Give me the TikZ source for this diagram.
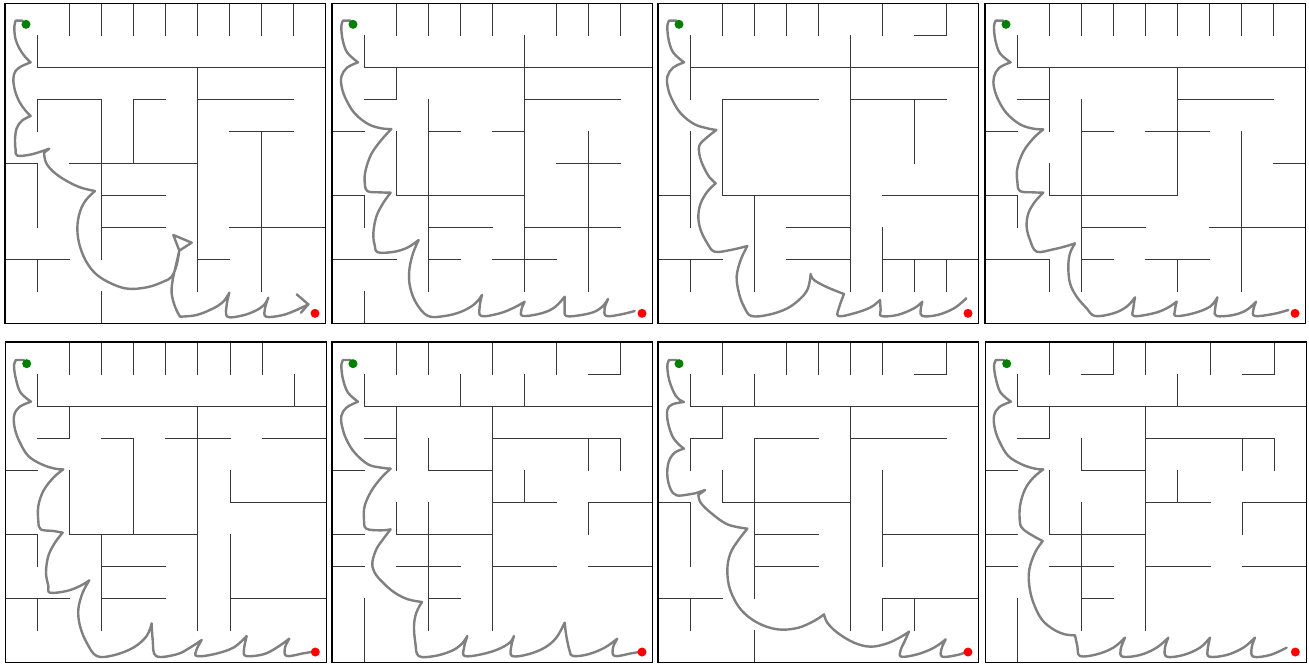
\documentclass[tikz,border=0pt]{standalone}
\usetikzlibrary{calc}
\tikzset{
  mazewall/.style={draw=black!78, line width=1pt, line cap=rect},
  mazeframe/.style={draw=black, line width=1.3pt},
  route/.style={draw=gray, line width=2.4pt, line join=round, line cap=round},
  smoothcurve/.style={smooth, tension=0.6},
  gdot/.style={circle, fill=green!50!black, inner sep=0pt, minimum size=9pt},
  rdot/.style={circle, fill=red, inner sep=0pt, minimum size=9pt},
  cellunit/.style={x=32.05pt, y=-32.05pt},
  zoomunit/.style={x=0.33333pt, y=-0.33333pt}
}
\begin{document}
\begin{tikzpicture}[x=1pt,y=-1pt]
\useasboundingbox (0,0) rectangle (1309,664);
\fill[white] (0,0) rectangle (1309,664);

% ================= Panel 1 =================
\begin{scope}[shift={(5,3.33)}, cellunit]
\draw[mazewall] (2,0)--(2,1) (3,0)--(3,1) (4,0)--(4,1) (5,0)--(5,1) (6,0)--(6,1) (7,0)--(7,1) (8,0)--(8,1) (9,0)--(9,1)
 (1,1)--(1,2) (1,2)--(10,2) (6,2)--(6,9)
 (1,3)--(3,3) (4,3)--(5,3) (6,3)--(9,3) (1,3)--(1,4) (3,3)--(3,8) (4,3)--(4,5)
 (7,4)--(9,4) (8,4)--(8,9)
 (0,5)--(1,5) (2,5)--(6,5) (1,5)--(1,7)
 (3,6)--(5,6) (3,7)--(5,7) (7,7)--(10,7)
 (0,8)--(2,8) (6,8)--(7,8) (1,8)--(1,9) (3,9)--(3,10);
\draw[mazeframe] (0,0) rectangle (10,10);
\end{scope}
\begin{scope}[shift={(0,0)}, zoomunit]
\draw[route] (68,62) -- (47,62)
 -- plot[smoothcurve] coordinates {(47,62) (43,80) (46,115) (58,145) (75,170) (92,187)}
 -- plot[smoothcurve] coordinates {(92,187) (64,199) (46,214) (40,238) (45,272) (58,305) (75,330) (92,348)}
 -- plot[smoothcurve] coordinates {(92,348) (66,362) (50,385) (45,420) (47,450) (52,467) (95,463) (148,446)}
 -- (132,458)
 -- plot[smoothcurve] coordinates {(132,458) (138,488) (160,515) (195,540) (240,562) (285,573)}
 -- plot[smoothcurve] coordinates {(285,573) (258,600) (240,635) (232,685) (240,740) (265,795) (305,835) (375,865) (440,862) (490,845) (515,830) (530,795) (538,752)}
 -- (520,705) -- (575,728) -- (538,752)
 -- plot[smoothcurve] coordinates {(538,752) (528,795) (518,840) (515,880) (525,920) (540,950)}
 -- plot[smoothcurve] coordinates {(540,950) (590,945) (640,925) (670,905) (688,878)}
 -- plot[smoothcurve] coordinates {(688,878) (680,915) (682,950) (725,947) (765,933) (792,915) (805,893)}
 -- plot[smoothcurve] coordinates {(805,893) (795,925) (798,950) (845,946) (885,932) (925,913)};
\draw[route] (890,883) -- (925,913) -- (903,938);
\node[gdot] (g1) at (78,73) {};
\node[rdot] (r1) at (945,940) {};
\end{scope}

% ================= Panel 2 =================
\begin{scope}[shift={(332,3.33)}, cellunit]
\draw[mazewall] (2,0)--(2,1) (3,0)--(3,1) (4,0)--(4,1) (5,0)--(5,1) (7,0)--(7,1) (8,0)--(8,1) (9,0)--(9,1)
 (1,1)--(1,2) (6,1)--(6,9) (1,2)--(10,2) (2,2)--(2,3)
 (1,3)--(2,3) (6,3)--(9,3) (3,3)--(3,9)
 (0,4)--(1,4) (3,4)--(4,4) (5,4)--(6,4) (2,4)--(2,6) (8,4)--(8,9)
 (7,5)--(9,5)
 (0,6)--(1,6) (2,6)--(6,6) (1,6)--(1,7)
 (3,7)--(5,7) (6,7)--(9,7)
 (0,8)--(2,8) (3,8)--(4,8) (5,8)--(7,8) (1,9)--(1,10);
\draw[mazeframe] (0,0) rectangle (10,10);
\end{scope}
\begin{scope}[shift={(328,0)}, zoomunit]
\draw[route] (68,62) -- (45,62)
 -- plot[smoothcurve] coordinates {(45,62) (40,80) (44,120) (58,158) (90,187)}
 -- plot[smoothcurve] coordinates {(90,187) (57,203) (40,230) (42,265) (55,300) (80,340) (120,372) (160,385) (190,387)}
 -- plot[smoothcurve] coordinates {(190,387) (160,420) (130,462) (113,510) (110,545) (118,573) (155,577) (188,578)}
 -- plot[smoothcurve] coordinates {(188,578) (165,610) (145,650) (136,700) (140,735) (150,757) (200,755) (240,742) (272,720)}
 -- plot[smoothcurve] coordinates {(272,720) (255,760) (244,810) (246,860) (265,910) (300,948) (350,948) (400,935) (440,912) (462,885)}
 -- plot[smoothcurve] coordinates {(462,885) (455,920) (460,948) (515,940) (560,922) (590,905)}
 -- plot[smoothcurve] coordinates {(590,905) (580,930) (585,948) (640,940) (680,922) (710,890)}
 -- plot[smoothcurve] coordinates {(710,890) (710,925) (715,948) (760,945) (800,935) (825,918) (840,897)}
 -- plot[smoothcurve] coordinates {(840,897) (830,925) (835,948) (880,943) (920,933)};
\node[gdot] (g2) at (75,73) {};
\node[rdot] (r2) at (942,940) {};
\end{scope}

% ================= Panel 3 =================
\begin{scope}[shift={(658,3.33)}, cellunit]
\draw[mazewall] (2,0)--(2,1) (3,0)--(3,1) (4,0)--(4,1) (5,0)--(5,1) (7,0)--(7,1) (9,0)--(9,1) (8,1)--(9,1)
 (1,1)--(1,3) (6,1)--(6,9) (1,2)--(10,2)
 (2,3)--(5,3) (6,3)--(9,3) (2,3)--(2,6) (8,3)--(8,5)
 (1,4)--(1,7)
 (0,6)--(1,6) (2,6)--(6,6) (7,6)--(10,6) (3,6)--(3,9)
 (4,7)--(6,7) (7,7)--(7,9)
 (0,8)--(2,8) (4,8)--(6,8) (7,8)--(10,8)
 (1,8)--(1,9) (8,8)--(8,9) (9,8)--(9,9);
\draw[mazeframe] (0,0) rectangle (10,10);
\end{scope}
\begin{scope}[shift={(654,0)}, zoomunit]
\draw[route] (68,62) -- (45,62)
 -- plot[smoothcurve] coordinates {(45,62) (40,80) (44,120) (58,158) (90,187)}
 -- plot[smoothcurve] coordinates {(90,187) (57,203) (40,230) (42,265) (55,300) (80,340) (120,372) (160,385) (187,390)}
 -- plot[smoothcurve] coordinates {(187,390) (158,413) (136,437) (138,472) (150,503) (165,530) (185,550)}
 -- plot[smoothcurve] coordinates {(185,550) (160,575) (140,610) (133,650) (140,690) (160,730) (182,755) (230,750) (280,738)}
 -- plot[smoothcurve] coordinates {(280,738) (260,780) (248,830) (255,880) (270,920) (292,948) (345,944) (400,925) (440,895) (462,865) (470,822)}
 -- plot[smoothcurve] coordinates {(470,822) (480,840) (520,862) (570,882)}
 -- plot[smoothcurve] coordinates {(570,882) (556,920) (553,948) (600,940) (650,922) (678,900)}
 -- plot[smoothcurve] coordinates {(678,900) (680,930) (682,948) (730,945) (780,925) (805,905)}
 -- plot[smoothcurve] coordinates {(805,905) (800,930) (805,948) (850,945) (900,925) (937,895)};
\node[gdot] (g3) at (75,73) {};
\node[rdot] (r3) at (942,940) {};
\end{scope}

% ================= Panel 4 =================
\begin{scope}[shift={(985,3.33)}, cellunit]
\draw[mazewall] (2,0)--(2,1) (3,0)--(3,1) (4,0)--(4,1) (5,0)--(5,1) (6,0)--(6,1) (7,0)--(7,1) (8,0)--(8,1) (9,0)--(9,1)
 (1,1)--(1,2) (1,2)--(10,2) (2,2)--(2,4) (6,2)--(6,6)
 (1,3)--(2,3) (6,3)--(9,3) (3,3)--(3,9)
 (0,4)--(1,4) (3,4)--(4,4) (5,4)--(7,4) (8,4)--(8,9)
 (9,5)--(10,5) (2,5)--(2,6)
 (0,6)--(1,6) (2,6)--(6,6) (1,6)--(1,7)
 (3,7)--(5,7) (7,7)--(10,7)
 (0,8)--(2,8) (3,8)--(4,8) (5,8)--(7,8) (2,8)--(2,9) (6,8)--(6,9);
\draw[mazeframe] (0,0) rectangle (10,10);
\end{scope}
\begin{scope}[shift={(980,0)}, zoomunit]
\draw[route] (70,62) -- (47,62)
 -- plot[smoothcurve] coordinates {(47,62) (42,80) (46,120) (60,160) (92,187)}
 -- plot[smoothcurve] coordinates {(92,187) (58,203) (42,230) (42,262) (55,300) (80,340) (120,373) (160,386) (190,388)}
 -- plot[smoothcurve] coordinates {(190,388) (160,415) (130,455) (112,505) (112,545) (120,573) (160,577) (190,578)}
 -- plot[smoothcurve] coordinates {(190,578) (165,605) (145,640) (140,680) (150,720) (170,755) (220,748) (260,738) (285,730)}
 -- plot[smoothcurve] coordinates {(285,730) (270,760) (265,800) (270,850) (290,890) (320,925) (345,948) (400,940) (440,920) (465,892)}
 -- plot[smoothcurve] coordinates {(465,892) (460,925) (462,948) (520,940) (560,925) (590,905)}
 -- plot[smoothcurve] coordinates {(590,905) (585,930) (588,948) (640,940) (690,920) (712,892)}
 -- plot[smoothcurve] coordinates {(712,892) (705,930) (710,948) (760,945) (800,930) (828,905)}
 -- plot[smoothcurve] coordinates {(828,905) (820,930) (825,948) (880,942) (925,930)};
\node[gdot] (g4) at (78,73) {};
\node[rdot] (r4) at (945,940) {};
\end{scope}

% ================= Panel 5 =================
\begin{scope}[shift={(5.67,342)}, cellunit]
\draw[mazewall] (2,0)--(2,1) (3,0)--(3,1) (4,0)--(4,1) (5,0)--(5,1) (6,0)--(6,1) (7,0)--(7,1) (8,0)--(8,1)
 (1,1)--(1,2) (9,1)--(9,2) (1,2)--(10,2) (2,2)--(2,3) (6,2)--(6,9)
 (1,3)--(2,3) (3,3)--(4,3) (5,3)--(7,3) (8,3)--(10,3) (4,3)--(4,6)
 (0,4)--(1,4) (2,4)--(2,6) (7,4)--(7,5) (7,5)--(10,5)
 (0,6)--(1,6) (2,6)--(6,6) (1,6)--(1,7) (3,6)--(3,9) (7,6)--(7,9)
 (3,7)--(5,7)
 (0,8)--(2,8) (3,8)--(5,8) (7,8)--(10,8) (1,8)--(1,9);
\draw[mazeframe] (0,0) rectangle (10,10);
\end{scope}
\begin{scope}[shift={(0,336)}, zoomunit]
\draw[route] (72,72) -- (48,72)
 -- plot[smoothcurve] coordinates {(48,72) (42,90) (48,130) (62,170) (93,197)}
 -- plot[smoothcurve] coordinates {(93,197) (58,213) (42,240) (45,280) (60,320) (85,360) (125,385) (165,398) (190,400)}
 -- plot[smoothcurve] coordinates {(190,400) (160,425) (130,465) (115,510) (115,555) (122,580) (160,585) (188,590)}
 -- plot[smoothcurve] coordinates {(188,590) (165,620) (145,660) (138,710) (145,750) (150,770) (200,765) (240,750) (268,733)}
 -- plot[smoothcurve] coordinates {(268,733) (248,770) (235,820) (240,870) (260,920) (290,960) (340,958) (400,935) (440,900) (455,862)}
 -- plot[smoothcurve] coordinates {(455,862) (458,910) (468,960) (530,955) (570,935) (605,912)}
 -- plot[smoothcurve] coordinates {(605,912) (590,940) (590,960) (640,955) (700,935) (740,900)}
 -- plot[smoothcurve] coordinates {(740,900) (732,940) (738,960) (790,955) (830,935) (868,908)}
 -- plot[smoothcurve] coordinates {(868,908) (855,935) (860,960) (910,952) (940,947)};
\node[gdot] (g5) at (80,83) {};
\node[rdot] (r5) at (946,948) {};
\end{scope}

% ================= Panel 6 =================
\begin{scope}[shift={(332,342)}, cellunit]
\draw[mazewall] (2,0)--(2,1) (3,0)--(3,1) (5,0)--(5,1) (7,0)--(7,1) (9,0)--(9,1) (8,1)--(9,1)
 (1,1)--(1,2) (4,1)--(4,2) (6,1)--(6,2) (1,2)--(10,2)
 (2,2)--(2,4) (2,5)--(2,6) (5,2)--(5,9)
 (1,3)--(2,3) (5,3)--(9,3) (3,3)--(3,4) (8,3)--(8,4) (9,3)--(9,4)
 (0,4)--(1,4) (3,4)--(5,4) (6,4)--(6,5)
 (5,5)--(7,5) (8,5)--(10,5) (3,5)--(3,9) (8,5)--(8,6)
 (0,6)--(1,6) (2,6)--(5,6)
 (0,7)--(1,7) (2,7)--(4,7) (5,7)--(7,7) (8,7)--(10,7)
 (3,8)--(4,8) (1,8)--(1,10);
\draw[mazeframe] (0,0) rectangle (10,10);
\end{scope}
\begin{scope}[shift={(328,336)}, zoomunit]
\draw[route] (68,72) -- (45,72)
 -- plot[smoothcurve] coordinates {(45,72) (40,90) (45,130) (60,170) (90,197)}
 -- plot[smoothcurve] coordinates {(90,197) (55,215) (40,240) (42,270) (55,310) (80,350) (120,385) (160,395) (188,398)}
 -- plot[smoothcurve] coordinates {(188,398) (160,425) (130,465) (110,510) (108,550) (115,578) (160,583) (188,580)}
 -- plot[smoothcurve] coordinates {(188,580) (165,610) (145,640) (133,680) (140,710) (165,740) (200,770) (240,790) (282,798)}
 -- plot[smoothcurve] coordinates {(282,798) (265,830) (258,870) (262,920) (272,960) (320,960) (370,945) (400,925) (418,900)}
 -- plot[smoothcurve] coordinates {(418,900) (408,935) (410,960) (460,955) (510,940) (545,920) (558,900)}
 -- plot[smoothcurve] coordinates {(558,900) (550,930) (552,960) (600,955) (650,935) (685,905) (710,860)}
 -- plot[smoothcurve] coordinates {(710,860) (715,900) (725,945) (735,960) (780,955) (830,935) (868,908)}
 -- plot[smoothcurve] coordinates {(868,908) (855,935) (860,960) (910,952) (940,947)};
\node[gdot] (g6) at (75,83) {};
\node[rdot] (r6) at (942,948) {};
\end{scope}

% ================= Panel 7 =================
\begin{scope}[shift={(658,342)}, cellunit]
\draw[mazewall] (2,0)--(2,1) (4,0)--(4,1) (5,0)--(5,1) (6,0)--(6,1) (7,0)--(7,1) (9,0)--(9,1) (8,1)--(9,1)
 (1,1)--(1,2) (3,1)--(3,2) (1,2)--(10,2) (2,2)--(2,3) (6,2)--(6,9)
 (1,3)--(2,3) (3,3)--(5,3) (6,3)--(9,3) (1,3)--(1,4) (3,3)--(3,8)
 (2,4)--(2,5) (7,4)--(7,7)
 (0,5)--(1,5) (2,5)--(6,5) (1,5)--(1,7)
 (3,6)--(5,6) (7,6)--(10,6) (3,7)--(5,7)
 (0,8)--(2,8) (7,8)--(10,8) (1,8)--(1,9) (7,8)--(7,9) (8,8)--(8,9) (3,9)--(3,10);
\draw[mazeframe] (0,0) rectangle (10,10);
\end{scope}
\begin{scope}[shift={(654,336)}, zoomunit]
\draw[route] (68,72) -- (45,72)
 -- plot[smoothcurve] coordinates {(45,72) (40,90) (45,130) (60,170) (75,190) (90,198)}
 -- plot[smoothcurve] coordinates {(90,198) (55,205) (40,222) (42,260) (55,300) (72,323) (90,338)}
 -- plot[smoothcurve] coordinates {(90,338) (62,350) (44,378) (40,420) (50,460) (68,478) (100,476) (123,472) (153,462)}
 -- (133,477)
 -- plot[smoothcurve] coordinates {(133,477) (140,500) (170,530) (220,565) (280,578)}
 -- plot[smoothcurve] coordinates {(280,578) (255,610) (230,650) (220,700) (228,760) (260,820) (310,860) (370,880) (430,876) (480,855) (510,835)}
 -- plot[smoothcurve] coordinates {(510,835) (520,860) (550,890) (600,920) (650,932) (700,922) (740,903) (765,887)}
 -- plot[smoothcurve] coordinates {(765,887) (750,920) (740,942) (742,962) (790,955) (840,935) (875,910)}
 -- plot[smoothcurve] coordinates {(875,910) (862,940) (865,962) (910,957) (940,947)};
\node[gdot] (g7) at (75,83) {};
\node[rdot] (r7) at (942,948) {};
\end{scope}

% ================= Panel 8 =================
\begin{scope}[shift={(985.67,342)}, cellunit]
\draw[mazewall] (2,0)--(2,1) (4,0)--(4,1) (5,0)--(5,1) (7,0)--(7,1) (9,0)--(9,1) (3,1)--(4,1) (8,1)--(9,1)
 (1,1)--(1,2) (6,1)--(6,2) (1,2)--(10,2)
 (2,2)--(2,3) (2,4)--(2,6) (5,2)--(5,9)
 (1,3)--(2,3) (5,3)--(9,3) (3,3)--(3,4) (8,3)--(8,4) (9,3)--(9,4)
 (0,4)--(1,4) (3,4)--(5,4) (6,4)--(6,5)
 (5,5)--(7,5) (8,5)--(10,5) (3,5)--(3,9) (8,5)--(8,6)
 (0,6)--(1,6) (2,6)--(5,6)
 (0,7)--(1,7) (2,7)--(4,7) (5,7)--(7,7) (8,7)--(10,7)
 (3,8)--(4,8) (1,8)--(1,10);
\draw[mazeframe] (0,0) rectangle (10,10);
\end{scope}
\begin{scope}[shift={(980,336)}, zoomunit]
\draw[route] (72,72) -- (48,72)
 -- plot[smoothcurve] coordinates {(48,72) (42,90) (48,130) (62,170) (93,197)}
 -- plot[smoothcurve] coordinates {(93,197) (58,213) (42,240) (45,280) (60,320) (85,360) (125,385) (165,398) (190,400)}
 -- plot[smoothcurve] coordinates {(190,400) (160,425) (135,460) (120,510) (120,560) (130,580) (160,600) (188,615)}
 -- plot[smoothcurve] coordinates {(188,615) (165,650) (148,700) (148,750) (160,800) (185,850) (220,880) (255,895) (285,898)}
 -- plot[smoothcurve] coordinates {(285,898) (292,930) (300,960) (350,955) (400,935) (435,905)}
 -- plot[smoothcurve] coordinates {(435,905) (422,940) (428,962) (480,957) (530,935) (565,905)}
 -- plot[smoothcurve] coordinates {(565,905) (555,935) (560,962) (610,957) (660,935) (690,905)}
 -- plot[smoothcurve] coordinates {(690,905) (683,940) (688,962) (740,957) (790,935) (825,905)}
 -- plot[smoothcurve] coordinates {(825,905) (815,935) (820,962) (870,957) (920,935)};
\node[gdot] (g8) at (80,83) {};
\node[rdot] (r8) at (946,948) {};
\end{scope}
\end{tikzpicture}
\end{document}
